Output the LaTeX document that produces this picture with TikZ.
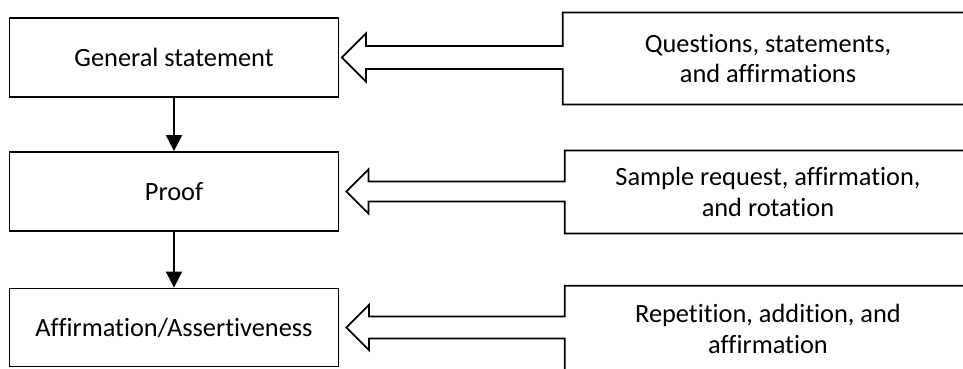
\documentclass[tikz,border=0pt]{standalone}
\usepackage{fontspec}
\setmainfont{Carlito}[Ligatures=NoCommon]
\usetikzlibrary{arrows.meta}

\begin{document}
\begin{tikzpicture}[
  font=\fontsize{15}{17.6}\selectfont,
  box/.style={draw, line width=1pt, minimum width=6.58cm, minimum height=1.58cm},
  source/.style={align=center, minimum width=8.2cm},
  callout/.style={draw, line width=1pt, line join=miter},
  flow/.style={line width=1pt, -{Triangle[length=0.32cm,width=0.32cm]}}
]

  \useasboundingbox (0,0) rectangle (19.26,-7.36);

  \node[box] (gen) at (3.48,-1.15) {General statement};
  \node[box] (proof) at (3.48,-3.83) {Proof};
  \node[box, minimum height=1.56cm] (assert) at (3.48,-6.55) {Affirmation/Assertiveness};

  \node[source, minimum height=1.83cm] (ques) at (15.36,-1.17) {Questions, statements,\\and affirmations};
  \node[source, minimum width=8.12cm, minimum height=1.65cm] (samp) at (15.36,-3.84) {Sample request, affirmation,\\and rotation};
  \node[source, minimum width=8.12cm, minimum height=1.70cm] (rep) at (15.36,-6.57) {Repetition, addition, and\\affirmation};

  \draw[flow] (gen) -- (proof);
  \draw[flow] (proof) -- (assert);

  \draw[callout] ([xshift=0.05cm]gen.east) -- ++(0.48,0.48) -- ++(0,-0.25) -| (ques.north west)
    -- (ques.north east) -- (ques.south east) -- (ques.south west)
    |- ([xshift=0.53cm,yshift=-0.23cm]gen.east) -- ++(0,-0.25) -- cycle;
  \draw[callout] ([xshift=0.14cm]proof.east) -- ++(0.44,0.44) -- ++(0,-0.24) -| (samp.north west)
    -- (samp.north east) -- (samp.south east) -- (samp.south west)
    |- ([xshift=0.58cm,yshift=-0.2cm]proof.east) -- ++(0,-0.24) -- cycle;
  \draw[callout] ([xshift=0.14cm]assert.east) -- ++(0.45,0.45) -- ++(0,-0.23) -| (rep.north west)
    -- (rep.north east) -- (rep.south east) -- (rep.south west)
    |- ([xshift=0.59cm,yshift=-0.22cm]assert.east) -- ++(0,-0.23) -- cycle;

\end{tikzpicture}
\end{document}
